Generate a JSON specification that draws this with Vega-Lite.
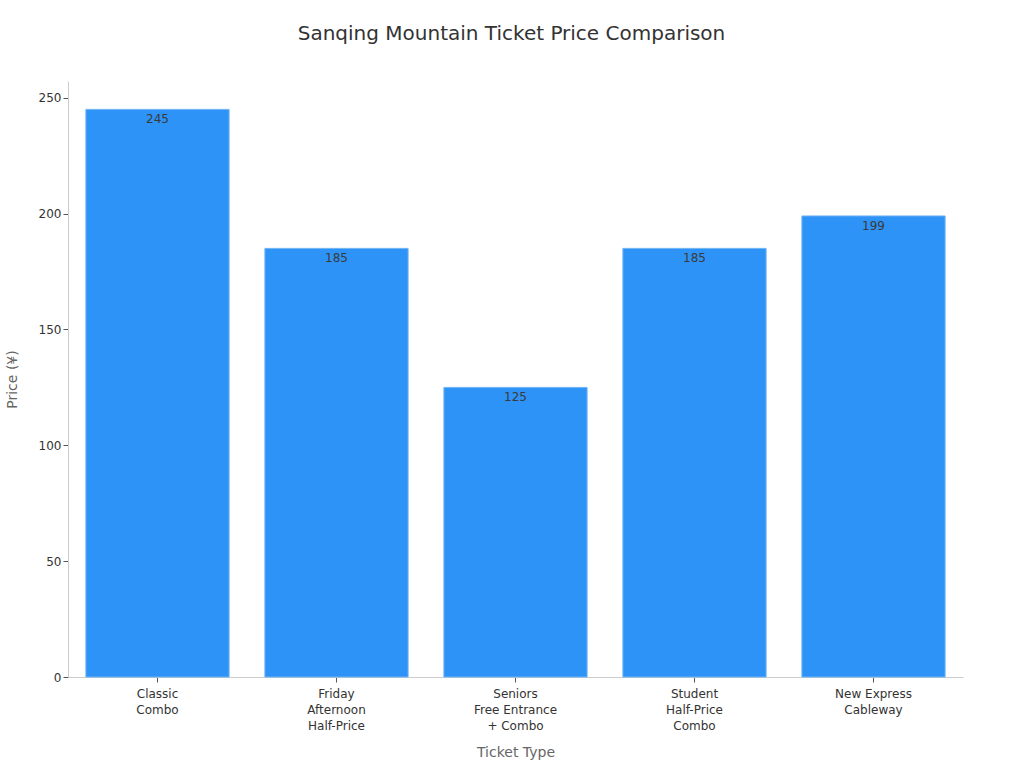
{
  "$schema": "https://vega.github.io/schema/vega-lite/v6.json",
  "width": 895,
  "height": 596,
  "autosize": "none",
  "padding": {"left": 68, "top": 81, "right": 61, "bottom": 91},
  "background": "white",
  "title": {
    "text": "Sanqing Mountain Ticket Price Comparison",
    "fontSize": 20,
    "font": "DejaVu Sans",
    "fontWeight": "normal",
    "color": "#333333",
    "anchor": "middle",
    "dx": -4,
    "offset": 37
  },
  "data": {
    "values": [
      {"ticket": "Classic|Combo", "price": 245},
      {"ticket": "Friday|Afternoon|Half-Price", "price": 185},
      {"ticket": "Seniors|Free Entrance|+ Combo", "price": 125},
      {"ticket": "Student|Half-Price|Combo", "price": 185},
      {"ticket": "New Express|Cableway", "price": 199}
    ]
  },
  "encoding": {
    "x": {
      "field": "ticket",
      "type": "nominal",
      "sort": null,
      "title": "Ticket Type",
      "scale": {"paddingInner": 0.2, "paddingOuter": 0.1},
      "axis": {
        "labelAngle": 0,
        "labelExpr": "split(datum.label, '|')",
        "labelFont": "DejaVu Sans",
        "labelFontSize": 12,
        "labelColor": "#333333",
        "labelLineHeight": 16,
        "labelPadding": 6,
        "titleFont": "DejaVu Sans",
        "titleFontSize": 14,
        "titleFontWeight": "normal",
        "titleColor": "#666666",
        "titlePadding": 14,
        "domainColor": "#cccccc",
        "tickColor": "#555555",
        "tickSize": 5
      }
    },
    "y": {
      "field": "price",
      "type": "quantitative",
      "title": "Price (¥)",
      "scale": {"domain": [0, 257.25], "nice": false},
      "axis": {
        "values": [0, 50, 100, 150, 200, 250],
        "grid": false,
        "labelFont": "DejaVu Sans",
        "labelFontSize": 12,
        "labelColor": "#333333",
        "titleFont": "DejaVu Sans",
        "titleFontSize": 14,
        "titleFontWeight": "normal",
        "titleColor": "#666666",
        "titlePadding": 19,
        "domainColor": "#cccccc",
        "tickColor": "#555555",
        "tickSize": 5
      }
    }
  },
  "layer": [
    {
      "mark": {"type": "bar", "color": "#2E93F7", "stroke": "#6FB3F5", "strokeWidth": 1}
    },
    {
      "mark": {"type": "text", "baseline": "top", "dy": 5, "font": "DejaVu Sans", "fontSize": 12, "color": "#3a3a3a"},
      "encoding": {"text": {"field": "price", "type": "quantitative"}}
    }
  ],
  "config": {"view": {"stroke": null}}
}
